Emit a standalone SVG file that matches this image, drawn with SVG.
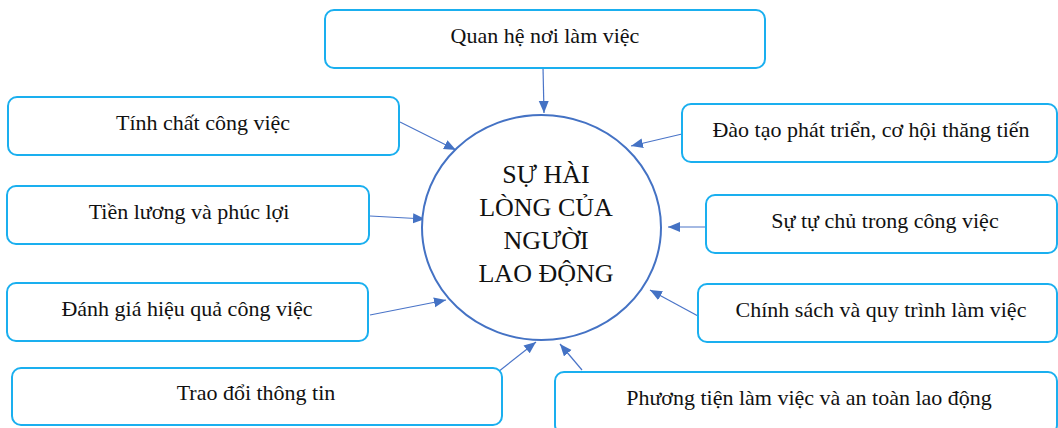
<svg xmlns="http://www.w3.org/2000/svg" width="1058" height="428" viewBox="0 0 1058 428">
<style>
.box{fill:#fff;stroke:#1AAFEF;stroke-width:2}
.t{font-family:"Liberation Serif","Times New Roman",serif;font-size:22px;fill:#111;text-anchor:middle}
.c{font-family:"Liberation Serif","Times New Roman",serif;font-size:26px;fill:#111;text-anchor:middle}
.ln{stroke:#4A74C8;stroke-width:1.2;fill:none;marker-end:url(#ah)}
</style>
<defs>
<marker id="ah" markerUnits="userSpaceOnUse" markerWidth="14" markerHeight="12" refX="12" refY="5" orient="auto">
<path d="M0,0 L12,5 L0,10 Z" fill="#4472C4"/>
</marker>
</defs>
<rect width="1058" height="428" fill="#fff"/>
<g id="connectors">
<line class="ln" x1="543" y1="67" x2="544" y2="113"/>
<line class="ln" x1="400" y1="122" x2="456" y2="150"/>
<line class="ln" x1="370" y1="216" x2="425" y2="219"/>
<line class="ln" x1="370" y1="315" x2="446" y2="300"/>
<line class="ln" x1="498" y1="372" x2="536" y2="342"/>
<line class="ln" x1="682" y1="134" x2="631" y2="146"/>
<line class="ln" x1="705" y1="227" x2="668" y2="227"/>
<line class="ln" x1="698" y1="316" x2="650" y2="290"/>
<line class="ln" x1="582" y1="370" x2="560" y2="344"/>
</g>
<g id="center">
<ellipse cx="541.5" cy="227.5" rx="119.5" ry="112.5" fill="#fff" stroke="#4472C4" stroke-width="2"/>
<text class="c" x="546" y="183">SỰ HÀI</text>
<text class="c" x="546" y="216">LÒNG CỦA</text>
<text class="c" x="546" y="249">NGƯỜI</text>
<text class="c" x="546" y="282">LAO ĐỘNG</text>
</g>
<g id="n-quanhe"><rect class="box" x="325" y="10" width="440" height="58" rx="9"/><text class="t" x="545" y="43">Quan hệ nơi làm việc</text></g>
<g id="n-tinhchat"><rect class="box" x="8" y="97" width="391" height="58" rx="9"/><text class="t" x="203" y="130">Tính chất công việc</text></g>
<g id="n-tienluong"><rect class="box" x="7" y="186" width="362" height="58" rx="9"/><text class="t" x="189" y="219">Tiền lương và phúc lợi</text></g>
<g id="n-danhgia"><rect class="box" x="7" y="283" width="361" height="58" rx="9"/><text class="t" x="187" y="316">Đánh giá hiệu quả công việc</text></g>
<g id="n-traodoi"><rect class="box" x="12" y="368" width="490" height="57" rx="9"/><text class="t" x="256" y="400">Trao đổi thông tin</text></g>
<g id="n-daotao"><rect class="box" x="682" y="104" width="375" height="58" rx="9"/><text class="t" x="871" y="137">Đào tạo phát triển, cơ hội thăng tiến</text></g>
<g id="n-tuchu"><rect class="box" x="706" y="195" width="351" height="58" rx="9"/><text class="t" x="885" y="228">Sự tự chủ trong công việc</text></g>
<g id="n-chinhsach"><rect class="box" x="698" y="284" width="359" height="58" rx="9"/><text class="t" x="881" y="317">Chính sách và quy trình làm việc</text></g>
<g id="n-phuongtien"><rect class="box" x="555" y="372" width="502" height="62" rx="9"/><text class="t" x="809" y="405">Phương tiện làm việc và an toàn lao động</text></g>
</svg>
